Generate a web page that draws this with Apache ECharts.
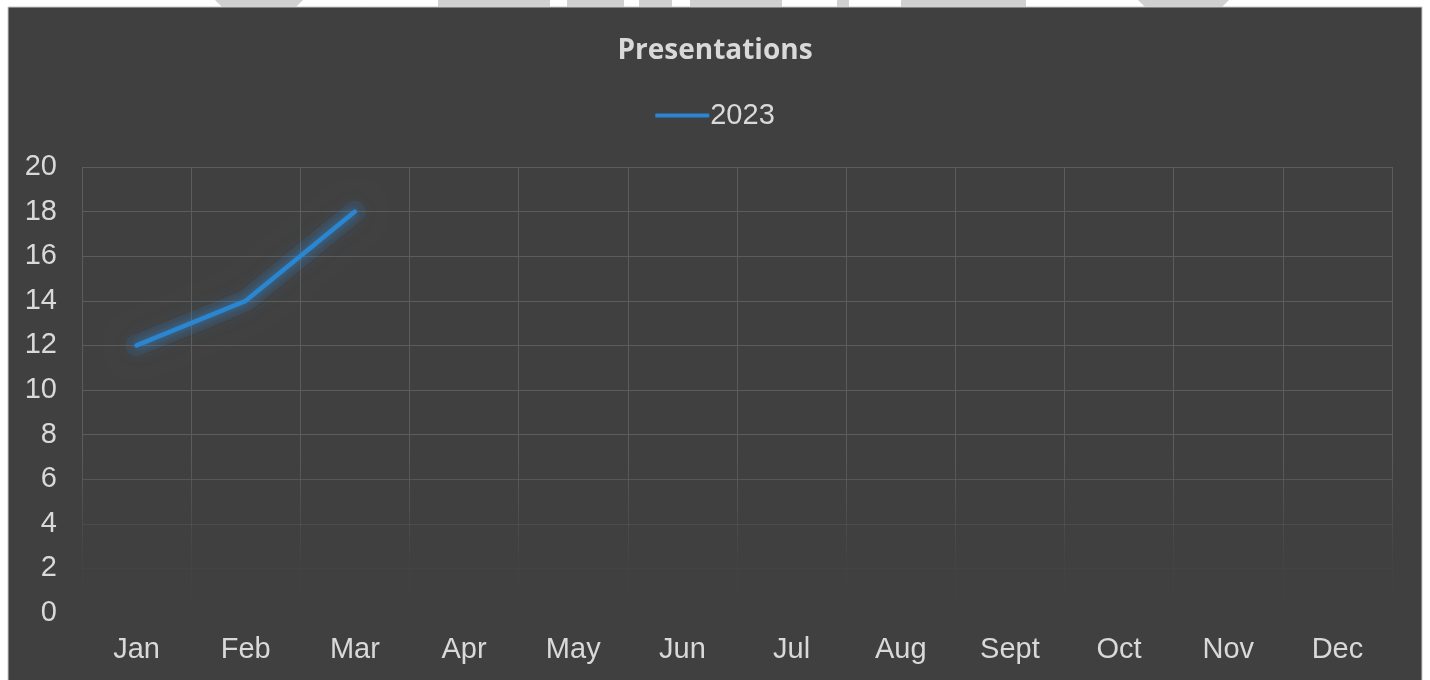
<!DOCTYPE html>
<html>
<head>
<meta charset="utf-8">
<script src="https://cdn.jsdelivr.net/npm/echarts@6/dist/echarts.min.js"></script>
<style>
html,body{margin:0;padding:0;background:#fff;}
#chart{width:1430px;height:680px;}
</style>
</head>
<body>
<div id="chart"></div>
<script>
const chartTitle = 'Presentations';
const seriesName = '2023';
const months = ['Jan','Feb','Mar','Apr','May','Jun','Jul','Aug','Sept','Oct','Nov','Dec'];
const values2023 = [12, 14, 18, null, null, null, null, null, null, null, null, null];
const yMin = 0, yMax = 20, yStep = 2;

const chart = echarts.init(document.getElementById('chart'), null, {renderer:'canvas'});
const textColor = '#d9d9d9';
const fadeGrad = {
  type:'linear', x:0, y:167, x2:0, y2:613, global:true,
  colorStops:[
    {offset:0, color:'rgba(92,92,92,1)'},
    {offset:0.64, color:'rgba(92,92,92,1)'},
    {offset:0.88, color:'rgba(92,92,92,0.12)'},
    {offset:1, color:'rgba(92,92,92,0)'}
  ]
};
const option = {
  backgroundColor:'#ffffff',
  animation:false,
  graphic:[
    {type:'rect', shape:{x:8, y:7, width:1414, height:680}, style:{fill:'#404040', stroke:'#c8c8c8', lineWidth:1}, z:-10},
    {type:'polygon', shape:{points:[[215,0],[303,0],[296,7],[222,7]]}, style:{fill:'#d0d0d0'}, z:-10},
    {type:'rect', shape:{x:438, y:0, width:18, height:7}, style:{fill:'#d0d0d0'}, z:-10},
    {type:'rect', shape:{x:456, y:0, width:94, height:7}, style:{fill:'#d0d0d0'}, z:-10},
    {type:'rect', shape:{x:567, y:0, width:57, height:7}, style:{fill:'#d0d0d0'}, z:-10},
    {type:'rect', shape:{x:639, y:0, width:33, height:7}, style:{fill:'#d0d0d0'}, z:-10},
    {type:'rect', shape:{x:690, y:0, width:92, height:7}, style:{fill:'#d0d0d0'}, z:-10},
    {type:'rect', shape:{x:837, y:0, width:12, height:7}, style:{fill:'#d0d0d0'}, z:-10},
    {type:'rect', shape:{x:901, y:0, width:125, height:7}, style:{fill:'#d0d0d0'}, z:-10},
    {type:'polygon', shape:{points:[[1138,0],[1229,0],[1222,7],[1145,7]]}, style:{fill:'#d0d0d0'}, z:-10}
  ],
  title:{
    text:chartTitle, left:'center', top:32,
    textStyle:{color:textColor, fontFamily:'Open Sans', fontWeight:'bold', fontSize:28}
  },
  legend:{
    top:96, left:'center',
    itemWidth:54, itemHeight:4, itemGap:10,
    icon:'roundRect',
    textStyle:{color:textColor, fontFamily:'Liberation Sans', fontSize:29, padding:[0,0,0,-4]},
    data:[{name:seriesName, icon:'roundRect'}]
  },
  grid:{left:82, right:38, top:167, bottom:67, containLabel:false},
  xAxis:{
    type:'category', data:months, boundaryGap:true,
    axisLine:{show:false}, axisTick:{show:false},
    axisLabel:{color:textColor, fontFamily:'Liberation Sans', fontSize:29, margin:22},
    splitLine:{show:true, interval:0, lineStyle:{color:fadeGrad, width:1}}
  },
  yAxis:{
    type:'value', min:yMin, max:yMax, interval:yStep,
    axisLine:{show:false}, axisTick:{show:false},
    axisLabel:{color:textColor, fontFamily:'Liberation Sans', fontSize:29, margin:25},
    splitLine:{show:true, lineStyle:{color:fadeGrad, width:1}}
  },
  series:[{
    name:'glow', type:'line', data:values2023, silent:true,
    showSymbol:false, symbol:'none', z:1,
    lineStyle:{color:'rgba(45,135,215,0.10)', width:22, cap:'round', join:'round',
      shadowColor:'rgba(45,135,215,0.45)', shadowBlur:20},
    itemStyle:{color:'rgba(45,135,215,0.1)'}
  },{
    name:seriesName, type:'line', data:values2023,
    showSymbol:false, symbol:'none', connectNulls:false, z:2,
    lineStyle:{color:'#2a86d0', width:4.5, cap:'round', join:'round',
      shadowColor:'rgba(45,135,215,0.8)', shadowBlur:10},
    itemStyle:{color:'#2a86d0'}
  }]
};
chart.setOption(option);
</script>
</body>
</html>
